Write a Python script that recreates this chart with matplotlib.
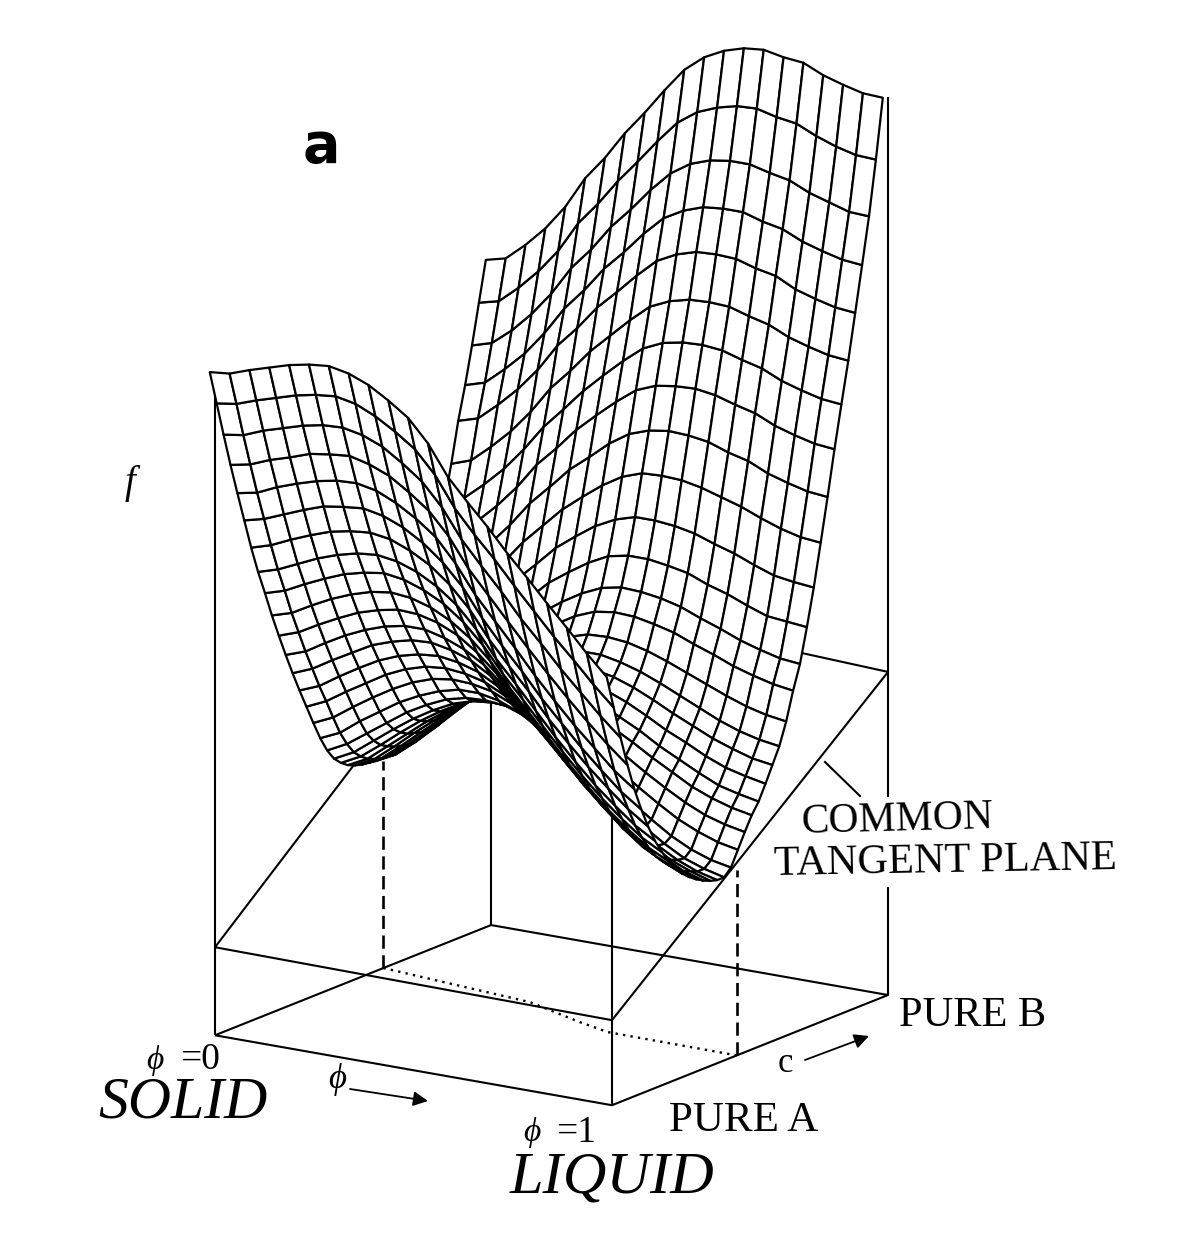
import numpy as np
import matplotlib
matplotlib.use("Agg")
import matplotlib.pyplot as plt

# free energy f, one row per c line, one column per phi line
f_rows = [
    [663,665,672,678,684,688,690,686,678,666,652,630,600,578,557,534,513,491,470,448,428],
    [629,632,639,645,651,655,657,653,644,632,618,596,566,543,522,499,477,455,435,414,395],
    [595,598,606,612,618,622,623,619,611,598,583,561,532,509,487,463,442,420,400,380,362],
    [562,566,574,580,587,590,592,587,579,566,551,529,500,477,454,431,409,388,368,349,332],
    [531,535,544,551,557,561,562,558,549,537,522,499,471,448,425,401,379,358,339,320,305],
    [501,506,514,522,529,532,534,530,522,510,494,473,445,421,399,375,354,333,314,296,282],
    [471,477,486,494,501,505,507,504,496,485,469,448,421,398,376,352,331,311,293,276,262],
    [444,450,459,468,475,480,482,479,472,461,446,425,399,377,354,331,310,290,273,257,245],
    [420,426,436,445,453,458,461,458,451,441,426,406,381,359,336,314,293,274,257,242,231],
    [395,401,412,422,430,436,439,437,431,421,407,388,364,342,320,298,278,259,243,229,219],
    [372,379,390,400,409,415,419,418,413,404,390,372,349,328,306,285,265,247,231,218,209],
    [350,357,369,380,389,396,400,400,395,387,375,357,336,315,294,273,254,236,221,210,201],
    [329,337,349,360,371,378,383,384,380,373,361,344,324,304,283,263,245,228,214,203,195],
    [309,317,330,342,353,361,366,368,365,359,348,332,313,294,274,255,237,221,207,197,190],
    [290,299,312,324,336,345,351,353,351,346,336,321,304,285,266,247,230,214,202,192,186],
    [271,280,294,307,319,329,336,339,338,334,325,311,295,277,259,241,224,209,197,189,183],
    [253,262,277,290,303,313,321,326,326,322,314,302,287,270,252,235,220,205,194,186,181],
    [238,248,262,276,290,301,310,315,316,314,307,295,281,265,249,232,217,204,193,186,181],
    [227,237,252,267,281,293,303,309,311,310,304,295,282,267,251,236,222,209,199,192,188],
    [220,230,245,261,276,289,300,308,312,313,309,300,289,276,262,248,235,223,214,207,203],
    [215,225,241,257,273,287,299,309,314,316,314,307,298,286,273,260,248,237,228,222,218],
    [212,222,238,255,271,287,300,310,317,321,320,314,306,295,284,272,261,250,242,236,232],
    [210,220,236,253,270,286,300,312,319,324,324,320,313,303,293,281,271,261,252,247,243],
    [209,219,235,252,270,288,302,315,324,330,332,329,323,315,305,294,285,275,267,262,258],
    [208,218,234,252,271,289,305,319,329,336,340,338,334,327,318,308,299,290,283,277,274],
    [211,220,237,255,275,294,310,325,336,345,350,350,346,340,332,323,314,305,298,293,290],
    [217,226,243,262,282,302,319,335,347,358,364,365,363,358,351,343,335,327,320,315,312],
    [228,237,254,273,294,315,333,351,364,376,384,387,386,382,377,369,362,354,348,343,340],
    [245,255,272,291,312,334,352,370,384,396,405,409,408,405,400,392,385,377,371,366,364],
    [270,279,296,315,337,359,378,397,411,424,434,438,438,435,431,423,417,409,402,400,398],
    [300,309,326,345,367,390,409,429,444,458,468,474,474,472,468,461,455,447,440,437,435],
    [335,343,360,379,401,425,445,465,481,496,508,515,516,515,511,505,499,491,484,479,477],
    [370,378,395,414,436,461,481,502,518,535,548,555,558,557,554,547,542,533,527,522,520],
    [405,412,430,449,471,497,517,539,557,574,589,597,600,601,598,592,587,578,572,567,565],
    [440,447,464,483,506,532,553,575,594,612,628,637,641,642,640,634,629,620,614,609,607],
    [475,482,499,518,541,568,589,612,631,650,667,676,681,682,681,675,670,661,655,650,648],
    [515,521,538,557,580,608,629,653,672,692,710,720,726,727,726,720,716,706,700,695,693],
    [548,554,571,590,614,642,664,689,709,731,750,761,768,770,770,764,760,751,745,740,738],
    [585,591,607,627,651,680,702,728,749,772,792,805,812,815,815,810,806,797,791,785,784],
    [625,630,647,667,691,722,745,771,794,818,840,854,862,867,868,863,860,851,844,839,838],
    [665,670,687,707,732,764,788,816,840,866,890,906,916,922,924,920,918,909,903,898,897],
]

# tangent plane heights at the four box corners
plane_phi = [0, 1, 1, 0, 0]
plane_c = [0, 0, 1, 1, 0]
plane_f = [88, 85, 323, 340, 88]

# tie line on the floor of the box and the two tangent points
tie_phi = [0, 0.405, 0.58, 0.673, 1]
tie_c = [0.61, 0.558, 0.4875, 0.4556, 0.452]
solid_point = (0.61, 207)
liquid_point = (0.452, 185)

f_table = np.array(f_rows, float)
phi_grid = np.linspace(0, 1, f_table.shape[1]) - 0.009
c_grid = np.linspace(0, 1, f_table.shape[0]) - 0.006
P, C = np.meshgrid(phi_grid, c_grid)

W, H = 1190, 1235
fig = plt.figure(figsize=(W/100, H/100), dpi=100)
size = 1190
ax = fig.add_axes([(551.5-0.5135*size)/W, (720-0.5135*size)/H, size/W, size/H], projection="3d")
ax.set_proj_type("ortho")
ax.view_init(elev=15.38, azim=-56.4)
ax.set_box_aspect((0.741, 0.7756, 1.613), zoom=1.0164)
ax.set_xlim(0, 1, view_margin=0)
ax.set_ylim(0, 1, view_margin=0)
ax.set_zlim(0, 1000, view_margin=0)
ax.set_axis_off()
ax.computed_zorder = False

def line(ph, cc, zz, lw=1.5, ls="-"):
    ax.plot(ph, cc, zz, color="black", lw=lw, ls=ls, zorder=1, solid_capstyle="butt")

line(plane_phi, plane_c, [0, 0, 0, 0, 0])
line(plane_phi, plane_c, plane_f)
line([0, 0], [0, 0], [0, 660])
line([1, 1], [0, 0], [0, 420])
line([0, 0], [1, 1], [0, 660])
line([1, 1], [1, 1], [0, 108])
line([1, 1], [1, 1], [198, 898])
line([0, 0], [solid_point[0]]*2, [0, solid_point[1]], lw=1.9, ls=(0, (5, 2.5)))
line([1, 1], [liquid_point[0]]*2, [0, liquid_point[1]], lw=1.9, ls=(0, (5, 2.5)))
line(tie_phi, tie_c, [0]*len(tie_c), lw=1.7, ls=(0, (1, 2.2)))

ax.plot_surface(P, C, f_table, rstride=1, cstride=1, color="white", edgecolor="black",
                linewidth=1.6, shade=False, zorder=2)

# labels sit on a flat overlay in pixel coordinates
ov = fig.add_axes([0, 0, 1, 1])
ov.set_xlim(0, W)
ov.set_ylim(H, 0)
ov.axis("off")
ov.patch.set_alpha(0)
ser = "Liberation Serif"
ov.text(897, 820, "COMMON", family=ser, fontsize=30, ha="center", va="center", rotation=1.5)
ov.text(945, 862, "TANGENT PLANE", family=ser, fontsize=30.5, ha="center", va="center", rotation=1)
ov.text(973, 1016, "PURE B", family=ser, fontsize=30.5, ha="center", va="center")
ov.text(744, 1121, "PURE A", family=ser, fontsize=31, ha="center", va="center")
ov.text(183, 1103, "SOLID", family=ser, style="italic", fontsize=43, ha="center", va="center")
ov.text(612, 1178, "LIQUID", family=ser, style="italic", fontsize=43.5, ha="center", va="center")
ov.text(155, 1060, "\u03d5", family=ser, style="italic", fontsize=24, ha="center", va="center")
ov.text(200, 1060, "=0", family=ser, fontsize=27, ha="center", va="center")
ov.text(532, 1133, "\u03d5", family=ser, style="italic", fontsize=24, ha="center", va="center")
ov.text(576, 1133, "=1", family=ser, fontsize=27, ha="center", va="center")
ov.text(337, 1080, "\u03d5", family=ser, style="italic", fontsize=25, ha="center", va="center")
ov.text(785, 1063, "c", family=ser, fontsize=25, ha="center", va="center")
ov.text(130, 483, "f", family=ser, style="italic", fontsize=28, ha="center", va="center")
ov.text(321, 147, "a", family="DejaVu Sans", weight="bold", fontsize=40, ha="center", va="center")
arrow = dict(arrowstyle="-|>", color="black", lw=1.3, mutation_scale=22, shrinkA=0, shrinkB=0)
ov.annotate("", xy=(428, 1101), xytext=(350, 1089), arrowprops=arrow)
ov.annotate("", xy=(869, 1036), xytext=(805, 1060), arrowprops=arrow)
ov.plot([825, 860], [762, 796], color="black", lw=1.5)

fig.savefig("out.png", dpi=100)
